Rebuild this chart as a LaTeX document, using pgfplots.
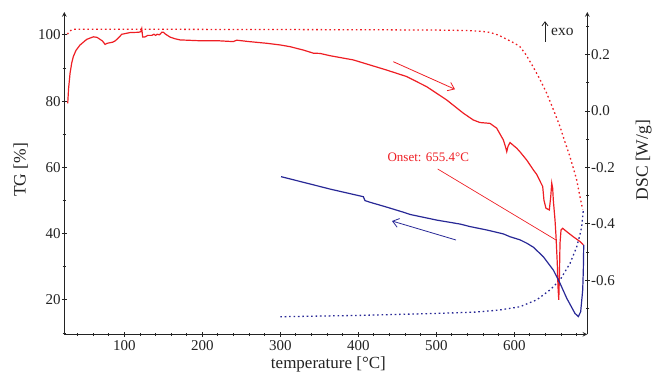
\documentclass[border=0pt]{standalone}
\usepackage{fontspec}
\setmainfont{Liberation Serif}
\usepackage{pgfplots}
\pgfplotsset{compat=1.18}
\usetikzlibrary{arrows.meta}
\definecolor{myred}{RGB}{238,30,36}
\definecolor{myblue}{RGB}{40,40,150}
\definecolor{axgray}{RGB}{35,35,35}

\begin{document}
\begin{tikzpicture}[x=1pt,y=1pt]
\path[use as bounding box] (0,0) rectangle (654,380);
\pgfplotsset{
  common/.style={
    at={(64.3pt,45.7pt)}, anchor=south west,
    width=523pt, height=322.3pt, scale only axis,
    xmin=23, xmax=693.6,
    axis line style={-, line width=1.1pt, color=axgray},
    tick align=outside,
    major tick length=5pt, minor tick length=3.5pt,
    every tick/.style={line width=0.9pt, color=axgray},
    tick label style={font=\fontsize{15}{18}\selectfont, color=axgray, inner sep=1pt},
    /pgf/number format/assume math mode=true,
  }
}
\begin{axis}[common,
  ymin=9.6, ymax=106.9,
  axis x line=bottom, axis y line=left,
  xtick={100,200,300,400,500,600},
  minor xtick={20,40,...,680},
  ytick={20,40,60,80,100},
  minor ytick={10,30,50,70,90},
  xticklabel style={yshift=-3pt},
  xlabel={temperature [°C]},
  xlabel style={at={(axis description cs:0.505,-0.092)}, anchor=center, inner sep=0.5pt, font=\fontsize{17}{20}\selectfont, color=axgray},
  ylabel={TG [\%]},
  ylabel style={at={(axis description cs:-0.0834,0.51)}, anchor=center, inner sep=1pt, font=\fontsize{17.5}{20}\selectfont, color=axgray},
]
% TG red dotted
\addplot[myred, line width=1.3pt, dash pattern=on 1.6pt off 2.8pt] coordinates {
(27,100.2)(30,101.2)(35,101.7)(100,101.7)(200,101.65)(300,101.6)(400,101.55)(450,101.5)(500,101.45)(540,101.3)(555,101.1)(565,100.9)(572,100.5)(580,99.9)(590,98.7)(600,97.5)(607,96.5)(615,94)(624,90.4)(633,86.5)(641.5,82.4)(650,77.5)(658.6,72.3)(665,67.6)(671,63.5)(676,59.5)(680,56.2)(684.2,51.1)(687.7,47.3)
};
% TG blue dotted
\addplot[myblue, line width=1.3pt, dash pattern=on 1.6pt off 2.8pt] coordinates {
(300,14.9)(350,15.1)(400,15.3)(450,15.6)(500,15.9)(550,16.3)(580,16.9)(607,17.9)(628.7,20)(645.8,23)(658.6,26)(671.4,31)(680,36)(684,39.5)(686.4,42.1)(688.5,47.1)
};
\end{axis}
\begin{axis}[common,
  ymin=-0.792, ymax=0.351,
  axis x line=none, axis y line=right,
  ytick={-0.6,-0.4,-0.2,0,0.2},
  minor ytick={-0.7,-0.5,-0.3,-0.1,0.1,0.3},
  yticklabel style={/pgf/number format/fixed, /pgf/number format/fixed zerofill, /pgf/number format/precision=1},
  ylabel={DSC [W/g]},
  ylabel style={at={(axis description cs:1.108,0.54)}, anchor=center, inner sep=1pt, font=\fontsize{17.5}{20}\selectfont, color=axgray},
]
% DSC red solid (heating)
\addplot[myred, line width=1.2pt] coordinates {
(27.4,0.027)(28.5,0.08)(30.4,0.134)(32.5,0.17)(34.6,0.193)(38,0.215)(43.2,0.234)(51.8,0.254)(60.3,0.263)(65,0.261)(68.8,0.254)(72,0.248)(75.3,0.236)(78,0.240)(81.7,0.242)(85,0.244)(88,0.248)(92,0.258)(96.7,0.272)(107.3,0.278)(118,0.279)(121,0.281)(122.3,0.292)(123.5,0.262)(126,0.262)(130,0.268)(135,0.268)(138,0.272)(140,0.268)(142,0.272)(145,0.270)(148,0.279)(150,0.279)(153,0.272)(158.6,0.262)(165,0.256)(171.4,0.252)(197,0.249)(220,0.249)(239.7,0.246)(244,0.251)(260,0.246)(282.6,0.240)(300,0.234)(312.4,0.228)(329.5,0.216)(342.3,0.205)(351,0.204)(363.7,0.196)(393.6,0.181)(436.4,0.145)(462,0.122)(487.7,0.086)(513.3,0.039)(534.7,-0.008)(547.4,-0.032)(556,-0.041)(568.8,-0.044)(577.4,-0.061)(586,-0.103)(589,-0.130)(590.3,-0.144)(592,-0.125)(594.5,-0.112)(603,-0.132)(607,-0.144)(615.9,-0.174)(624.4,-0.209)(628.7,-0.225)(636.4,-0.268)(638,-0.316)(640.6,-0.345)(644.9,-0.351)(646.7,-0.304)(648,-0.256)(649.2,-0.274)(650,-0.316)(652.2,-0.387)(653.5,-0.446)(655.1,-0.540)(656,-0.623)(657,-0.670)(657.8,-0.588)(658.6,-0.469)(659.9,-0.422)(662,-0.416)(667.2,-0.428)(675.6,-0.446)(684.2,-0.463)(688.5,-0.475)
};
% DSC blue solid (cooling)
\addplot[myblue, line width=1.2pt] coordinates {
(689,-0.475)(688.5,-0.564)(687.7,-0.635)(685.1,-0.712)(682.1,-0.729)(677.8,-0.718)(667.2,-0.664)(658.6,-0.611)(650,-0.564)(637.2,-0.517)(624.4,-0.483)(616,-0.469)(607.3,-0.457)(594.5,-0.446)(586,-0.436)(564.6,-0.422)(543.2,-0.410)(530.4,-0.401)(500.5,-0.387)(466.3,-0.367)(457.7,-0.359)(436.4,-0.341)(415.3,-0.324)(408.6,-0.318)(406.4,-0.304)(363.7,-0.277)(351,-0.268)(301,-0.233)
};
\end{axis}
% annotations
\draw[myred, line width=0.8pt, -{Straight Barb[length=6pt,width=9pt]}] (393.3,318.3) -- (455,290.7);
\draw[myblue, line width=0.8pt, -{Straight Barb[length=6pt,width=9pt]}] (456,140) -- (392,159);
\draw[myred, line width=0.7pt] (437.7,211) -- (556,140);
\node[text=myred, font=\fontsize{13}{15}\selectfont] at (428.3,222.7) {Onset: 655.4°C};
\draw[axgray, line width=0.8pt, -{Straight Barb[length=4pt,width=6pt]}] (545,338.3) -- (545,358.8);
\node[anchor=west, text=axgray, font=\fontsize{15.5}{18}\selectfont, inner sep=0pt] at (551,348) {exo};
\end{tikzpicture}
\end{document}
